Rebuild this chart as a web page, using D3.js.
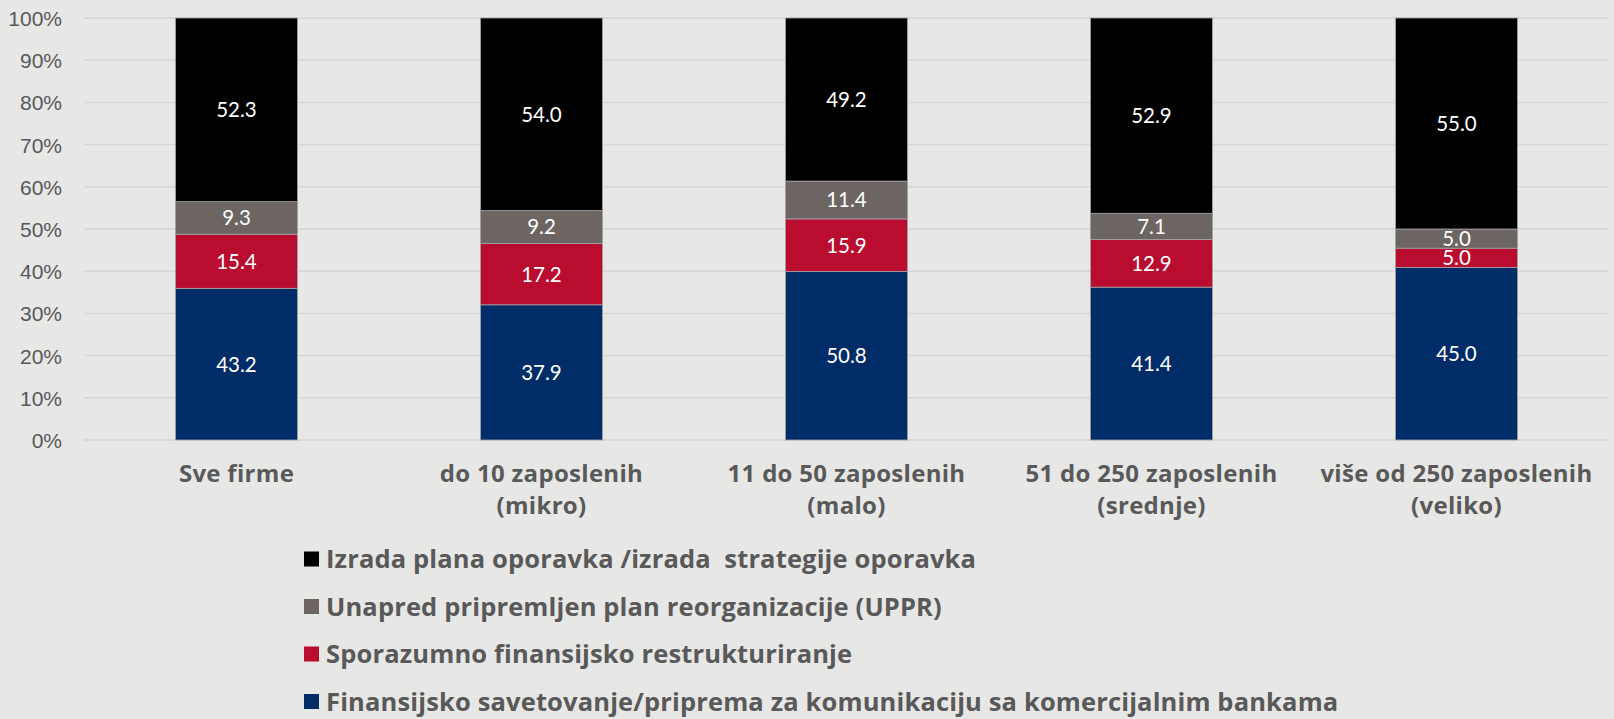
<!DOCTYPE html>
<html><head><meta charset="utf-8">
<script src="https://cdn.jsdelivr.net/npm/d3@7"></script>
<style>
html,body{margin:0;padding:0;background:#e7e7e6;}
svg{display:block;font-family:"Gill Sans","Lato","Open Sans",sans-serif;}
</style></head>
<body><svg id="c" width="1614" height="719"></svg>
<script>
const categories = ["Sve firme", "do 10 zaposlenih\n(mikro)", "11 do 50 zaposlenih\n(malo)", "51 do 250 zaposlenih\n(srednje)", "više od 250 zaposlenih\n(veliko)"];
const seriesNames = ["Finansijsko savetovanje/priprema za komunikaciju sa komercijalnim bankama", "Sporazumno finansijsko restrukturiranje", "Unapred pripremljen plan reorganizacije (UPPR)", "Izrada plana oporavka /izrada  strategije oporavka"];
const finansijsko = [43.2, 37.9, 50.8, 41.4, 45.0];
const sporazumno = [15.4, 17.2, 15.9, 12.9, 5.0];
const uppr = [9.3, 9.2, 11.4, 7.1, 5.0];
const izrada = [52.3, 54.0, 49.2, 52.9, 55.0];
const colors = ["#002d67", "#ba0c2f", "#6d6562", "#000000"];
const yTicks = [0, 0.1, 0.2, 0.3, 0.4, 0.5, 0.6, 0.7, 0.8, 0.9, 1.0];

(function () {
const seriesValues = [finansijsko, sporazumno, uppr, izrada];
const keys = seriesNames;
const rows = categories.map((c, i) => {
  const r = {cat: c};
  keys.forEach((k, j) => r[k] = seriesValues[j][i]);
  return r;
});
const stacked = d3.stack().keys(keys).offset(d3.stackOffsetExpand)(rows);

const svg = d3.select("#c");
const pLeft = 84, pRight = 1609, pTop = 18, pBottom = 440;
const x = d3.scaleBand().domain(categories).range([pLeft, pRight]).paddingInner(0.6).paddingOuter(0.3);
const y = d3.scaleLinear().domain([0, 1]).range([pBottom, pTop]);
const textCol = "#595959";
const boldFont = "'Open Sans','Lato',sans-serif";

svg.append("g").selectAll("line").data(yTicks).join("line")
  .attr("x1", pLeft).attr("x2", pRight)
  .attr("y1", d => y(d)).attr("y2", d => y(d))
  .attr("stroke", "#d5d5d4").attr("stroke-width", 1.5);

const yAxis = d3.axisLeft(y).tickValues(yTicks).tickFormat(d3.format(".0%")).tickSize(0).tickPadding(0);
const gy = svg.append("g").attr("transform", `translate(62,0)`).call(yAxis);
gy.select(".domain").remove();
gy.selectAll("text").attr("fill", textCol).attr("font-size", 21).attr("dy", "0.36em").attr("font-family", null);

const g = svg.append("g");
stacked.forEach((s, si) => {
  g.append("g").selectAll("rect").data(s).join("rect")
    .attr("x", d => x(d.data.cat))
    .attr("width", x.bandwidth())
    .attr("y", d => y(d[1]))
    .attr("height", d => y(d[0]) - y(d[1]))
    .attr("fill", colors[si])
    .attr("stroke", "#a3a3a3").attr("stroke-width", 0.8);
  g.append("g").selectAll("text").data(s).join("text")
    .attr("x", d => x(d.data.cat) + x.bandwidth() / 2)
    .attr("y", d => (y(d[0]) + y(d[1])) / 2)
    .attr("dy", "0.36em")
    .attr("text-anchor", "middle")
    .attr("fill", "#ffffff").attr("font-size", 20.5)
    .text(d => d3.format(".1f")(d.data[s.key]));
});

const xl = svg.append("g").selectAll("text").data(categories).join("text")
  .attr("y", 482)
  .attr("text-anchor", "middle")
  .attr("fill", textCol).attr("font-size", 24).attr("font-weight", "bold")
  .attr("letter-spacing", 0.3)
  .attr("font-family", boldFont);
xl.each(function(d) {
  const lines = d.split("\n");
  const cx = x(d) + x.bandwidth() / 2;
  d3.select(this).selectAll("tspan").data(lines).join("tspan")
    .attr("x", cx)
    .attr("dy", (l, k) => k === 0 ? 0 : 32)
    .text(l => l);
});

const legendOrder = [3, 2, 1, 0];
const lg = svg.append("g").selectAll("g").data(legendOrder).join("g")
  .attr("transform", (d, i) => `translate(304,${559 + i * 47.5})`);
lg.append("rect").attr("x", 0).attr("y", -7.5).attr("width", 15).attr("height", 15)
  .attr("fill", d => colors[d]);
lg.append("text").attr("x", 22).attr("y", 0).attr("dy", "0.36em")
  .attr("fill", textCol).attr("font-size", 25.5).attr("font-weight", "bold")
  .attr("letter-spacing", 0.15)
  .attr("font-family", boldFont)
  .style("white-space", "pre")
  .text(d => seriesNames[d]);
})();
</script>
</body></html>
